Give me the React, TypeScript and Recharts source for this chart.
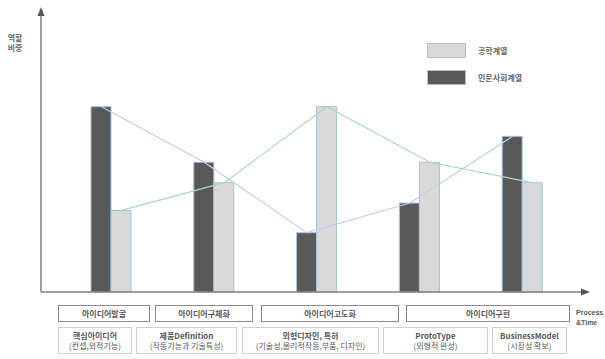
import React from 'react';
import { ComposedChart, Bar, Line, XAxis, YAxis } from 'recharts';

// values (relative role weight, 0-15 scale)
const categories = ['핵심아이디어', '제품Definition', '외형디자인, 특허', 'ProtoType', 'BusinessModel'];
const categoryNotes = ['(컨셉,외적기능)', '(작동기능과 기술특성)', '(기술성,물리적작동,부품, 디자인)', '(외형적 완성)', '(시장성 확보)'];
const humanities = [10, 7, 3.2, 4.8, 8.4];
const engineering = [4.4, 5.9, 10, 7, 5.9];
const stages = ['아이디어발굴', '아이디어구체화', '아이디어고도화', '아이디어구현'];

const DARK = '#595959';
const LIGHT = '#d9d9d9';
const EDGE = '#a9bfdc';
const AXIS = '#7f7f7f';
const FONT = '"Noto Sans CJK KR", "Noto Sans", sans-serif';

// box geometry for the label rows under the axis
const stageBoxes = [
  [58, 150],
  [155, 253],
  [261, 399],
  [406, 570],
];
const noteBoxes = [
  [58, 132],
  [136, 237],
  [242, 379],
  [383, 488],
  [492, 567],
];

const data = categories.map((name, i) => ({
  name,
  humanities: humanities[i],
  engineering: engineering[i],
}));

const legendItems = [
  { label: '공학계열', color: LIGHT },
  { label: '인문사회계열', color: DARK },
];

export default function App() {
  return (
    <div style={{ position: 'fixed', left: 0, top: 0, width: 605, height: 359, background: '#fff', fontFamily: FONT }}>
      <ComposedChart
        width={605}
        height={359}
        data={data}
        margin={{ top: 14, right: 20, left: 36, bottom: 62 }}
        barGap={0}
      >
        <XAxis
          dataKey="name"
          xAxisId="bars"
          height={5}
          tick={false}
          tickLine={false}
          padding={{ left: 19, right: 11 }}
          axisLine={{ stroke: AXIS, strokeWidth: 1.5 }}
        />
        <XAxis dataKey="name" xAxisId="dark" hide padding={{ left: 9, right: 21 }} />
        <XAxis dataKey="name" xAxisId="light" hide padding={{ left: 29, right: 1 }} />
        <YAxis
          domain={[0, 15]}
          width={5}
          tick={false}
          tickLine={false}
          axisLine={{ stroke: AXIS, strokeWidth: 1.5 }}
        />
        <Bar xAxisId="bars" dataKey="humanities" barSize={20} fill={DARK} stroke={EDGE} strokeWidth={1} isAnimationActive={false} />
        <Bar xAxisId="bars" dataKey="engineering" barSize={20} fill={LIGHT} stroke={EDGE} strokeWidth={1} isAnimationActive={false} />
        <Line xAxisId="dark" dataKey="humanities" stroke="#bcd0ec" strokeWidth={1.2} dot={false} type="linear" isAnimationActive={false} />
        <Line xAxisId="light" dataKey="engineering" stroke="#a6dcbb" strokeWidth={1.2} dot={false} type="linear" isAnimationActive={false} />
      </ComposedChart>

      {/* axis arrowheads */}
      <svg width={605} height={359} style={{ position: 'absolute', left: 0, top: 0, pointerEvents: 'none' }}>
        <polygon points="41,7 37.5,16 44.5,16" fill="#555" />
        <polygon points="590,292 581,288.5 581,295.5" fill="#555" />
      </svg>

      {/* y axis title */}
      <div style={{ position: 'absolute', left: 5, top: 33, width: 20, fontSize: 8, lineHeight: '10px', color: '#666', textAlign: 'center', fontWeight: 700 }}>
        역할<br />비중
      </div>

      {/* legend */}
      <div style={{ position: 'absolute', left: 427, top: 42 }}>
        {legendItems.map((item, i) => (
          <div key={item.label} style={{ display: 'flex', alignItems: 'center', height: 16, marginBottom: i === 0 ? 11 : 0 }}>
            <div style={{ width: 39, height: 15, background: item.color, border: `1px solid ${EDGE}`, boxSizing: 'border-box' }} />
            <span style={{ marginLeft: 12, fontSize: 8, color: '#666', fontWeight: 700 }}>{item.label}</span>
          </div>
        ))}
      </div>

      {/* stage row */}
      {stages.map((s, i) => (
        <div
          key={s}
          style={{
            position: 'absolute',
            left: stageBoxes[i][0],
            top: 305,
            width: stageBoxes[i][1] - stageBoxes[i][0],
            height: 17,
            border: '1px solid #8c8c8c',
            boxSizing: 'border-box',
            fontSize: 8,
            fontWeight: 700,
            color: '#595959',
            display: 'flex',
            alignItems: 'center',
            justifyContent: 'center',
          }}
        >
          {s}
        </div>
      ))}

      {/* category row */}
      {categories.map((c, i) => (
        <div
          key={c}
          style={{
            position: 'absolute',
            left: noteBoxes[i][0],
            top: 327,
            width: noteBoxes[i][1] - noteBoxes[i][0],
            height: 27,
            border: '1px solid #cfcfcf',
            boxSizing: 'border-box',
            fontSize: 8,
            lineHeight: '10px',
            color: '#595959',
            display: 'flex',
            flexDirection: 'column',
            alignItems: 'center',
            justifyContent: 'center',
            whiteSpace: 'nowrap',
          }}
        >
          <span style={{ fontWeight: 700 }}>{c}</span>
          <span>{categoryNotes[i]}</span>
        </div>
      ))}

      <div style={{ position: 'absolute', left: 576, top: 308, fontSize: 7, lineHeight: '10px', fontWeight: 700, color: '#595959', fontFamily: 'Arial, "Liberation Sans", sans-serif' }}>
        Process<br />&amp;Time
      </div>
    </div>
  );
}
